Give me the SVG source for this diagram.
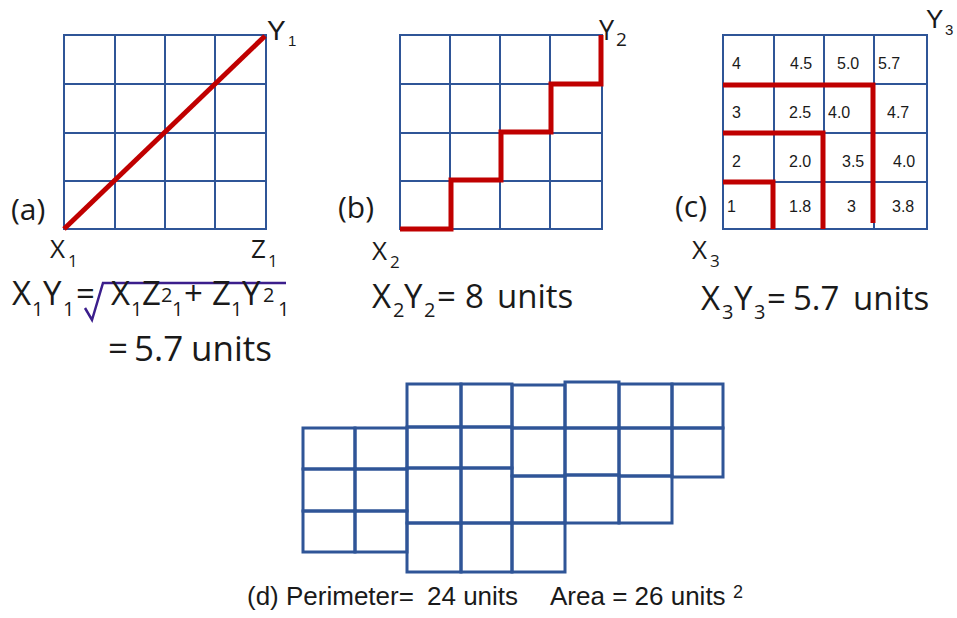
<svg xmlns="http://www.w3.org/2000/svg" width="957" height="618" viewBox="0 0 957 618">
<style>
.g{fill:none;stroke:#2F5597;stroke-width:2}
.gd{fill:none;stroke:#2F5597;stroke-width:3}
.r{fill:none;stroke:#C00000;stroke-width:5;stroke-linecap:butt;stroke-linejoin:miter}
.t{font-family:"Open Sans",Lato,sans-serif;fill:#1a1a1a}
.a{font-family:"Liberation Sans",Arial,sans-serif;fill:#1a1a1a}
.m{font-size:33px}
.s{font-size:20px}
.l{font-size:26px}
.ls{font-size:17px}
.p{font-size:30px}
.n{font-size:16px}
</style>
<rect width="957" height="618" fill="#fff"/>

<g id="panel-a">
  <rect class="g" x="64" y="35" width="202" height="194"/>
  <path class="g" d="M115 35V229M165 35V229M215 35V229M64 84H266M64 133H266M64 181H266"/>
  <line class="r" x1="64" y1="229" x2="265" y2="36"/>
  <text class="a" y="40"><tspan x="267" font-size="28">Y</tspan><tspan x="288" y="46" font-size="15">1</tspan></text>
  <text class="t p" x="11" y="220">(a)</text>
  <text class="t l" y="258"><tspan x="50">X</tspan><tspan x="68" y="267" class="ls">1</tspan></text>
  <text class="t l" y="258"><tspan x="251">Z</tspan><tspan x="268" y="267" class="ls">1</tspan></text>
  <text class="t m" y="305"><tspan x="12">X</tspan><tspan x="32" y="316" class="s">1</tspan><tspan x="43" y="305">Y</tspan><tspan x="63" y="316" class="s">1</tspan><tspan x="76" y="305">=</tspan></text>
  <path d="M85 308L92 320L103 283H286" fill="none" stroke="#3B1E8C" stroke-width="2.5"/>
  <text class="t m" y="305"><tspan x="111">X</tspan><tspan x="131" y="316" class="s">1</tspan><tspan x="142" y="305">Z</tspan><tspan x="161" y="302" class="s">2</tspan><tspan x="172" y="316" class="s">1</tspan><tspan x="184" y="305">+</tspan><tspan x="212">Z</tspan><tspan x="231" y="316" class="s">1</tspan><tspan x="242" y="305">Y</tspan><tspan x="263" y="302" class="s">2</tspan><tspan x="278" y="316" class="s">1</tspan></text>
  <text class="t" font-size="35" y="361"><tspan x="108">=</tspan><tspan x="134">5.7</tspan><tspan x="191">units</tspan></text>
</g>

<g id="panel-b">
  <rect class="g" x="400" y="35" width="202" height="194"/>
  <path class="g" d="M450 35V229M500 35V229M550 35V229M400 84H602M400 133H602M400 181H602"/>
  <polyline class="r" points="400,229 451,229 451,180 501,180 501,132 551,132 551,84 601,84 601,35"/>
  <text class="t" y="40"><tspan x="599" font-size="27">Y</tspan><tspan x="616" y="46" font-size="19">2</tspan></text>
  <text class="t p" x="338" y="218">(b)</text>
  <text class="t l" y="260"><tspan x="372">X</tspan><tspan x="390" y="268" class="ls">2</tspan></text>
  <text class="t m" y="308"><tspan x="372">X</tspan><tspan x="393" y="317" class="s">2</tspan><tspan x="404" y="308">Y</tspan><tspan x="424" y="317" class="s">2</tspan><tspan x="437" y="308">=</tspan><tspan x="465">8</tspan><tspan x="497">units</tspan></text>
</g>

<g id="panel-c">
  <rect class="g" x="723" y="35" width="204" height="194"/>
  <path class="g" d="M774 35V229M824 35V229M874 35V229M723 84H927M723 133H927M723 182H927"/>
  <polyline class="r" points="723,85 873,85 873,223"/>
  <polyline class="r" points="723,133 823,133 823,229"/>
  <polyline class="r" points="723,182 773,182 773,229"/>
  <g class="a n">
    <text x="732" y="69">4</text><text x="790" y="69">4.5</text><text x="837" y="69">5.0</text><text x="878" y="69">5.7</text>
    <text x="732" y="118">3</text><text x="789" y="118">2.5</text><text x="828" y="118">4.0</text><text x="887" y="118">4.7</text>
    <text x="732" y="167">2</text><text x="789" y="167">2.0</text><text x="842" y="167">3.5</text><text x="893" y="167">4.0</text>
    <text x="727" y="212">1</text><text x="789" y="212">1.8</text><text x="847" y="212">3</text><text x="892" y="212">3.8</text>
  </g>
  <text class="a" y="28"><tspan x="926" font-size="26">Y</tspan><tspan x="945" y="35" font-size="15">3</tspan></text>
  <text class="t p" x="675" y="217">(c)</text>
  <text class="t l" y="259"><tspan x="692">X</tspan><tspan x="710" y="267" class="ls">3</tspan></text>
  <text class="t m" y="310"><tspan x="701">X</tspan><tspan x="722" y="319" class="s">3</tspan><tspan x="734" y="310">Y</tspan><tspan x="754" y="319" class="s">3</tspan><tspan x="767" y="310">=</tspan><tspan x="793">5.7</tspan><tspan x="853">units</tspan></text>
</g>

<g id="panel-d">
  <rect class="gd" x="303" y="428" width="52" height="41"/>
  <rect class="gd" x="355" y="428" width="52" height="41"/>
  <rect class="gd" x="303" y="469" width="52" height="42"/>
  <rect class="gd" x="355" y="469" width="52" height="42"/>
  <rect class="gd" x="303" y="511" width="52" height="41"/>
  <rect class="gd" x="355" y="511" width="52" height="41"/>

  <rect class="gd" x="407" y="384" width="54" height="43"/>
  <rect class="gd" x="407" y="427" width="54" height="41"/>
  <rect class="gd" x="407" y="468" width="54" height="55"/>
  <rect class="gd" x="407" y="523" width="54" height="49"/>

  <rect class="gd" x="461" y="384" width="51" height="43"/>
  <rect class="gd" x="461" y="427" width="51" height="41"/>
  <rect class="gd" x="461" y="468" width="51" height="55"/>
  <rect class="gd" x="461" y="523" width="51" height="49"/>

  <rect class="gd" x="512" y="385" width="53" height="43"/>
  <rect class="gd" x="512" y="428" width="53" height="48"/>
  <rect class="gd" x="512" y="476" width="53" height="47"/>
  <rect class="gd" x="512" y="523" width="53" height="49"/>

  <rect class="gd" x="565" y="382" width="54" height="46"/>
  <rect class="gd" x="565" y="428" width="54" height="47"/>
  <rect class="gd" x="565" y="475" width="54" height="48"/>

  <rect class="gd" x="619" y="384" width="53" height="44"/>
  <rect class="gd" x="619" y="428" width="53" height="48"/>
  <rect class="gd" x="619" y="476" width="53" height="47"/>

  <rect class="gd" x="672" y="384" width="51" height="44"/>
  <rect class="gd" x="672" y="428" width="51" height="49"/>

  <text class="a" font-size="26" y="605"><tspan x="247">(d) Perimeter=</tspan><tspan x="427">24 units</tspan><tspan x="550">Area = 26 units</tspan><tspan x="733" y="598" font-size="18">2</tspan></text>
</g>
</svg>
